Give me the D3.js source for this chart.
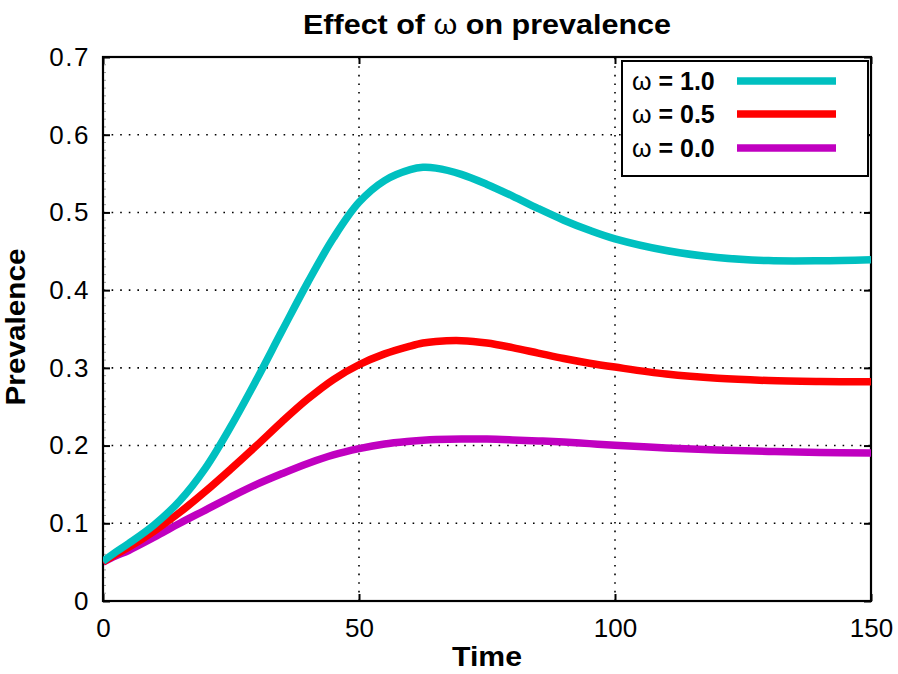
<!DOCTYPE html>
<html><head><meta charset="utf-8">
<script src="https://cdn.jsdelivr.net/npm/d3@7/dist/d3.min.js"></script>
<style>body{margin:0;background:#fff}svg{display:block}</style>
</head><body>
<script>
const time     = [0,2.5,5,10,15,20,25,30,35,40,45,50,55,60,62.5,65,70,75,80,85,90,95,100,110,120,130,140,150];
const omega10  = [0.051,0.063,0.074,0.098,0.129,0.171,0.225,0.285,0.348,0.410,0.467,0.513,0.541,0.555,0.558,0.557,0.549,0.536,0.521,0.505,0.490,0.477,0.466,0.451,0.442,0.4380,0.4378,0.4392];
const omega05  = [0.050,0.060,0.069,0.090,0.114,0.141,0.170,0.200,0.231,0.260,0.285,0.304,0.318,0.328,0.332,0.334,0.335,0.332,0.326,0.319,0.312,0.306,0.301,0.292,0.2865,0.2837,0.2825,0.282];
const omega00  = [0.050,0.058,0.065,0.082,0.100,0.117,0.134,0.150,0.164,0.177,0.188,0.196,0.202,0.2055,0.2068,0.2077,0.2085,0.2083,0.2073,0.206,0.2045,0.2025,0.2005,0.197,0.1942,0.1925,0.1912,0.1905];
const seriesSymbols = ["ω","ω","ω"];
const seriesValues  = [" = 1.0"," = 0.5"," = 0.0"];
const seriesColors = ["#00c0c0","#ff0000","#c000c0"];
const xTicks = [0,50,100,150];
const yTicks = [0,0.1,0.2,0.3,0.4,0.5,0.6,0.7];

const W=898,H=674;
const m={l:103,r:27,t:57,b:73};
const svg=d3.select("body").append("svg").attr("width",W).attr("height",H);
const x=d3.scaleLinear().domain([0,150]).range([m.l,W-m.r]);
const y=d3.scaleLinear().domain([0,0.7]).range([H-m.b,m.t]);
const font="'Liberation Sans', Arial, Helvetica, sans-serif";

// grid
const g=svg.append("g");
g.selectAll(".gx").data(xTicks.filter(d=>d>0&&d<150)).enter().append("line")
 .attr("x1",d=>x(d)).attr("x2",d=>x(d)).attr("y1",y(0)).attr("y2",y(0.7))
 .attr("stroke","#000").attr("stroke-width",1.6).attr("stroke-dasharray","1.6,7");
g.selectAll(".gy").data(yTicks.filter(d=>d>0&&d<0.7)).enter().append("line")
 .attr("x1",x(0)).attr("x2",x(150)).attr("y1",d=>y(d)).attr("y2",d=>y(d))
 .attr("stroke","#000").attr("stroke-width",1.6).attr("stroke-dasharray","1.6,7");

// minor ticks on left
const minor=d3.range(0,0.7001,0.01);
g.selectAll(".mn").data(minor).enter().append("line")
 .attr("x1",x(0)).attr("x2",x(0)+3).attr("y1",d=>y(d)).attr("y2",d=>y(d))
 .attr("stroke","#888").attr("stroke-width",0.8);

// axes via d3
const axL=svg.append("g").attr("transform",`translate(${x(0)},0)`)
 .call(d3.axisLeft(y).tickValues(yTicks).tickFormat(d=>d===0?"0":d3.format(".1f")(d)).tickSizeInner(-7).tickSizeOuter(0).tickPadding(13));
const axB=svg.append("g").attr("transform",`translate(0,${y(0)})`)
 .call(d3.axisBottom(x).tickValues(xTicks).tickFormat(d3.format("d")).tickSizeInner(-7).tickSizeOuter(0).tickPadding(18));
const axR=svg.append("g").attr("transform",`translate(${x(150)},0)`)
 .call(d3.axisRight(y).tickValues(yTicks).tickFormat("").tickSizeInner(-7).tickSizeOuter(0));
const axT=svg.append("g").attr("transform",`translate(0,${y(0.7)})`)
 .call(d3.axisTop(x).tickValues(xTicks).tickFormat("").tickSizeInner(-7).tickSizeOuter(0));
[axL,axB,axR,axT].forEach(a=>{
  a.select(".domain").remove();
  a.selectAll("line").attr("stroke","#000").attr("stroke-width",2);
  a.selectAll("text").attr("font-family",font).attr("font-size",26).attr("fill","#000");
});
axB.selectAll("text").attr("dy","0.71em");
axL.selectAll("text").attr("letter-spacing","1.5px");

// frame
svg.append("rect").attr("x",x(0)).attr("y",y(0.7)).attr("width",x(150)-x(0)).attr("height",y(0)-y(0.7))
 .attr("fill","none").attr("stroke","#000").attr("stroke-width",2.2);

// lines
const all=[omega10,omega05,omega00];
const line=d3.line().x((d,i)=>x(time[i])).y(d=>y(d)).curve(d3.curveCatmullRom.alpha(0.5));
svg.append("clipPath").attr("id","c").append("rect")
 .attr("x",x(0)).attr("y",y(0.7)).attr("width",x(150)-x(0)).attr("height",y(0)-y(0.7));
[2,1,0].forEach(k=>{
  svg.append("path").attr("d",line(all[k])).attr("fill","none")
   .attr("stroke",seriesColors[k]).attr("stroke-width",7.5).attr("stroke-linejoin","round")
   .attr("clip-path","url(#c)");
});

// legend
const lg=svg.append("g");
lg.append("rect").attr("x",622).attr("y",61).attr("width",246).attr("height",115)
 .attr("fill","#fff").attr("stroke","#000").attr("stroke-width",2);
const ly=[81,114,148];
seriesValues.forEach((n,i)=>{
  const t=lg.append("text").attr("x",632).attr("y",ly[i]).attr("dy","0.35em")
   .attr("font-family",font).attr("font-size",25).attr("font-weight","bold");
  t.append("tspan").attr("font-weight","normal").text(seriesSymbols[i]);
  t.append("tspan").text(n);
  lg.append("line").attr("x1",737).attr("x2",836).attr("y1",ly[i]).attr("y2",ly[i])
   .attr("stroke",seriesColors[i]).attr("stroke-width",7.5);
});

// title & labels
const tt=svg.append("text").attr("x",(x(0)+x(150))/2).attr("y",25).attr("dy","0.35em").attr("text-anchor","middle")
 .attr("font-family",font).attr("font-size",27).attr("font-weight","bold")
 .attr("textLength",368).attr("lengthAdjust","spacingAndGlyphs");
tt.append("tspan").text("Effect of ");
tt.append("tspan").attr("font-weight","normal").text("ω");
tt.append("tspan").text(" on prevalence");
svg.append("text").attr("x",(x(0)+x(150))/2).attr("y",657).attr("dy","0.35em").attr("text-anchor","middle")
 .attr("font-family",font).attr("font-size",27).attr("font-weight","bold")
 .attr("textLength",70).attr("lengthAdjust","spacingAndGlyphs").text("Time");
svg.append("text").attr("transform",`translate(16,${(y(0)+y(0.7))/2-2}) rotate(-90)`).attr("dy","0.35em").attr("text-anchor","middle")
 .attr("font-family",font).attr("font-size",27).attr("font-weight","bold")
 .attr("textLength",157).attr("lengthAdjust","spacingAndGlyphs").text("Prevalence");
</script>
</body></html>
